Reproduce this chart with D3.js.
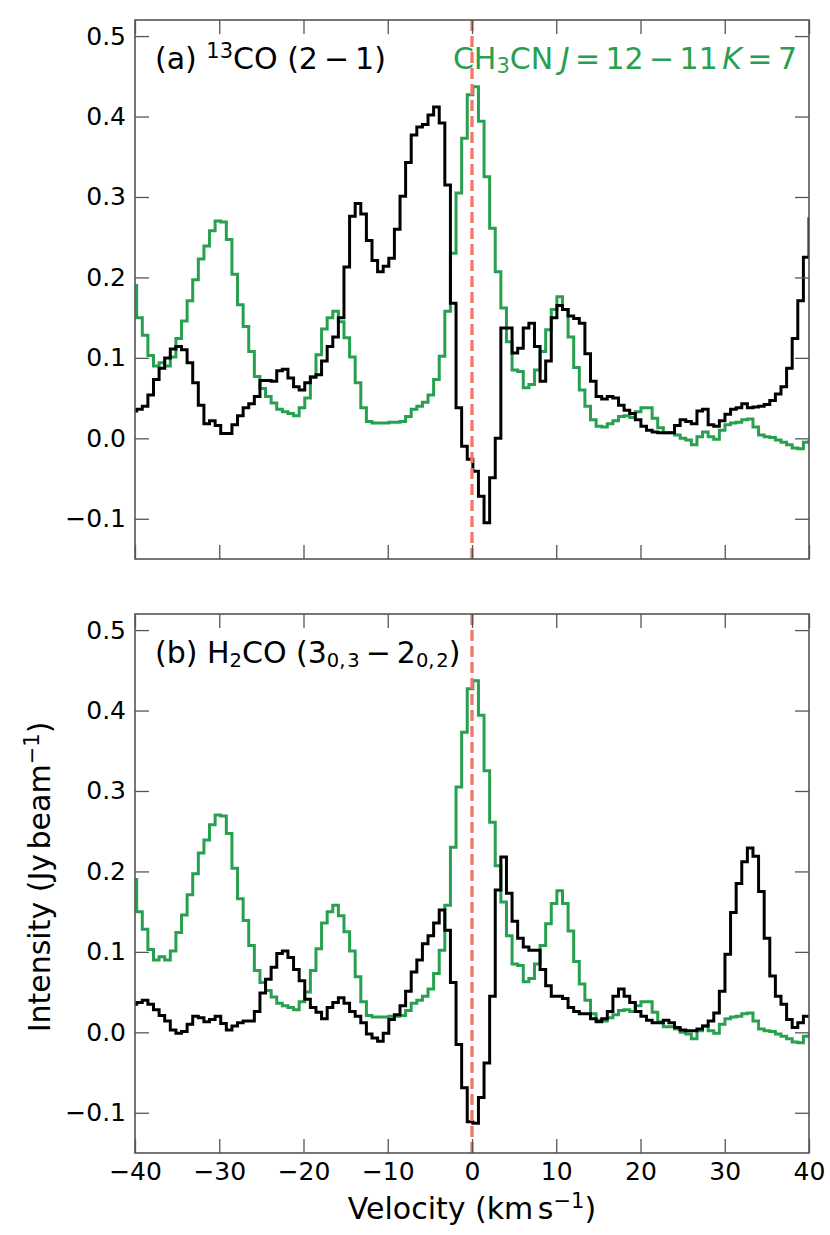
<!DOCTYPE html>
<html><head><meta charset="utf-8">
<script src="https://cdn.jsdelivr.net/npm/d3@7"></script>
<style>body{margin:0;background:#fff}svg{display:block;font-family:"DejaVu Sans",sans-serif}</style>
</head><body><svg id="c" width="830" height="1235"></svg>
<script>
// channel centre velocities (km/s)
const velocity = [-40.13,-39.47,-38.80,-38.14,-37.47,-36.81,-36.14,-35.48,-34.81,-34.15,
-33.48,-32.82,-32.15,-31.49,-30.82,-30.16,-29.49,-28.83,-28.16,-27.50,
-26.83,-26.17,-25.50,-24.84,-24.17,-23.51,-22.84,-22.18,-21.51,-20.85,
-20.18,-19.52,-18.85,-18.19,-17.52,-16.86,-16.19,-15.53,-14.86,-14.20,
-13.53,-12.87,-12.20,-11.54,-10.87,-10.21,-9.54,-8.88,-8.21,-7.55,
-6.88,-6.22,-5.55,-4.89,-4.22,-3.56,-2.89,-2.23,-1.56,-0.90,
-0.23,0.43,1.10,1.76,2.43,3.09,3.76,4.42,5.09,5.75,
6.42,7.08,7.75,8.41,9.08,9.74,10.41,11.07,11.74,12.40,
13.07,13.73,14.40,15.06,15.73,16.39,17.06,17.72,18.39,19.05,
19.72,20.38,21.05,21.71,22.38,23.04,23.71,24.37,25.04,25.70,
26.37,27.03,27.70,28.36,29.03,29.69,30.36,31.02,31.69,32.35,
33.02,33.68,34.35,35.01,35.68,36.34,37.01,37.67,38.34,39.00,
39.67,40.33];

// CH3CN J=12-11 K=7 (green, same in both panels)
const ch3cn = [0.190,0.150,0.128,0.103,0.090,0.094,0.090,0.101,0.124,0.146,
0.171,0.197,0.223,0.239,0.258,0.270,0.269,0.247,0.204,0.166,
0.139,0.108,0.077,0.062,0.052,0.044,0.036,0.033,0.031,0.028,
0.038,0.050,0.077,0.104,0.136,0.150,0.158,0.145,0.125,0.101,
0.069,0.038,0.021,0.019,0.019,0.019,0.020,0.020,0.021,0.027,
0.036,0.040,0.045,0.054,0.073,0.102,0.158,0.230,0.305,0.373,
0.427,0.437,0.394,0.325,0.261,0.207,0.162,0.120,0.085,0.083,
0.063,0.067,0.085,0.108,0.135,0.160,0.176,0.160,0.126,0.088,
0.060,0.040,0.023,0.015,0.014,0.018,0.022,0.027,0.028,0.026,
0.033,0.038,0.038,0.025,0.013,0.007,0.007,0.004,0.000,-0.002,
-0.008,0.002,0.008,0.002,-0.001,0.010,0.017,0.019,0.020,0.023,
0.024,0.014,0.004,0.002,0.001,-0.002,-0.005,-0.008,-0.012,-0.013,
-0.005,-0.004];

// 13CO (2-1) (black, panel a)
const co13 = [0.034,0.036,0.040,0.054,0.073,0.087,0.100,0.111,0.114,0.110,
0.094,0.069,0.041,0.018,0.022,0.016,0.006,0.006,0.017,0.028,
0.038,0.043,0.052,0.072,0.072,0.071,0.084,0.086,0.075,0.064,
0.060,0.069,0.076,0.079,0.096,0.114,0.126,0.150,0.213,0.276,
0.292,0.279,0.246,0.221,0.207,0.214,0.224,0.260,0.301,0.343,
0.377,0.387,0.390,0.402,0.412,0.392,0.315,0.168,0.038,-0.010,
-0.026,-0.041,-0.072,-0.105,-0.049,0.000,0.137,0.137,0.106,0.112,
0.137,0.143,0.114,0.071,0.096,0.150,0.165,0.160,0.152,0.149,
0.143,0.105,0.071,0.052,0.049,0.052,0.050,0.041,0.035,0.031,
0.023,0.015,0.010,0.008,0.007,0.007,0.007,0.016,0.023,0.021,
0.018,0.034,0.036,0.017,0.015,0.022,0.030,0.036,0.038,0.043,
0.038,0.039,0.040,0.042,0.047,0.055,0.064,0.087,0.124,0.171,
0.225,0.273];

// H2CO (3_03-2_02) (black, panel b)
const h2co = [0.035,0.037,0.040,0.035,0.028,0.021,0.014,0.003,-0.001,0.001,
0.010,0.020,0.018,0.013,0.016,0.020,0.011,0.003,0.008,0.012,
0.014,0.014,0.026,0.049,0.066,0.081,0.098,0.101,0.093,0.078,
0.064,0.041,0.031,0.025,0.017,0.031,0.037,0.043,0.036,0.026,
0.020,0.012,-0.002,-0.007,-0.011,-0.001,0.016,0.022,0.033,0.051,
0.075,0.090,0.110,0.120,0.136,0.152,0.127,0.062,-0.015,-0.069,
-0.111,-0.113,-0.081,-0.038,0.045,0.177,0.218,0.173,0.138,0.117,
0.106,0.102,0.102,0.078,0.058,0.045,0.045,0.042,0.031,0.026,
0.023,0.023,0.017,0.013,0.017,0.026,0.045,0.054,0.045,0.037,
0.026,0.020,0.015,0.012,0.012,0.015,0.012,0.006,0.003,0.002,
0.002,0.004,0.008,0.014,0.024,0.051,0.097,0.149,0.185,0.212,
0.229,0.219,0.175,0.117,0.070,0.045,0.035,0.016,0.006,0.012,
0.020,0.020];

const xTicks = [-40,-30,-20,-10,0,10,20,30,40];
const yTicks = [-0.1,0.0,0.1,0.2,0.3,0.4,0.5];
const xDomain = [-40, 40];
const yDomain = [-0.15, 0.52];
const systemicVelocity = 0;

const GREEN = "#27a04f", RED = "#f2766b", FRAME = "#555";
const TICK_FS = 25, TITLE_FS = 30, LABEL_FS = 30;
const svg = d3.select("#c");
const L = 135, R = 809;
const panels = [
  {top: 20, bottom: 559, series: co13, id: "a", showX: false},
  {top: 614, bottom: 1153, series: h2co, id: "b", showX: true}
];
const x = d3.scaleLinear(xDomain, [L, R]);

function rich(g, px, py, size, segs, anchor, color) {
  const t = g.append("text").attr("x", px).attr("y", py).attr("font-size", size)
    .attr("fill", color).attr("text-anchor", anchor || "start");
  let cur = 0;
  segs.forEach(s => {
    const off = s.sup ? -0.36 * size : (s.sub ? 0.14 * size : 0);
    const ts = t.append("tspan").text(s.t).attr("dy", off - cur);
    if (s.sup || s.sub) ts.attr("font-size", (s.scale || 0.7) * size);
    if (s.it) ts.attr("font-style", "italic");
    if (s.dx) ts.attr("dx", s.dx * size);
    cur = off;
  });
  return t;
}

panels.forEach((p, pi) => {
  const y = d3.scaleLinear(yDomain, [p.bottom, p.top]);
  const g = svg.append("g");
  const clipId = "clip" + pi;
  svg.append("clipPath").attr("id", clipId).append("rect")
    .attr("x", L).attr("y", p.top).attr("width", R - L).attr("height", p.bottom - p.top);

  const line = d3.line().x((d, i) => x(velocity[i])).y(d => y(d)).curve(d3.curveStep);
  const plot = g.append("g").attr("clip-path", `url(#${clipId})`);
  plot.append("path").datum(ch3cn).attr("d", line).attr("fill", "none")
    .attr("stroke", GREEN).attr("stroke-width", 3).attr("stroke-linejoin", "miter");
  plot.append("path").datum(p.series).attr("d", line).attr("fill", "none")
    .attr("stroke", "#000").attr("stroke-width", 3).attr("stroke-linejoin", "miter");
  plot.append("line").attr("x1", x(systemicVelocity)).attr("x2", x(systemicVelocity))
    .attr("y1", p.top).attr("y2", p.bottom)
    .attr("stroke", RED).attr("stroke-width", 3.3).attr("stroke-dasharray", "11,5");

  const fmtY = d3.format(".1f");
  const left = g.append("g").attr("transform", `translate(${L},0)`)
    .call(d3.axisLeft(y).tickValues(yTicks).tickFormat(fmtY).tickSize(-14).tickPadding(9));
  const right = g.append("g").attr("transform", `translate(${R},0)`)
    .call(d3.axisRight(y).tickValues(yTicks).tickFormat("").tickSize(-14));
  const top = g.append("g").attr("transform", `translate(0,${p.top})`)
    .call(d3.axisTop(x).tickValues(xTicks).tickFormat("").tickSize(-14));
  const bot = g.append("g").attr("transform", `translate(0,${p.bottom})`)
    .call(d3.axisBottom(x).tickValues(xTicks).tickFormat(p.showX ? d3.format("d") : "").tickSize(-14).tickPadding(9));
  [left, right, top, bot].forEach(a => {
    a.select(".domain").remove();
    a.selectAll(".tick line").attr("stroke", FRAME).attr("stroke-width", 1.3);
    a.selectAll("text").attr("font-size", TICK_FS).attr("fill", "#000").attr("font-family", "DejaVu Sans");
  });
  g.append("rect").attr("x", L).attr("y", p.top).attr("width", R - L).attr("height", p.bottom - p.top)
    .attr("fill", "none").attr("stroke", FRAME).attr("stroke-width", 1.6);

  if (p.id === "a") {
    rich(g, 155, p.top + 49, TITLE_FS, [
      {t: "(a) "}, {t: "13", sup: true}, {t: "CO (2"}, {t: "\u2212", dx: 0.2}, {t: "1)", dx: 0.2}
    ], "start", "#000");
    rich(g, 797, p.top + 49, TITLE_FS, [
      {t: "CH"}, {t: "3", sub: true}, {t: "CN"}, {t: "J", it: true, dx: 0.25},
      {t: "=", dx: 0.18}, {t: "12", dx: 0.18}, {t: "\u2212", dx: 0.18}, {t: "11", dx: 0.18},
      {t: "K", it: true, dx: 0.15}, {t: "=", dx: 0.18}, {t: "7", dx: 0.18}
    ], "end", GREEN);
  } else {
    rich(g, 155, p.top + 49, TITLE_FS, [
      {t: "(b) H"}, {t: "2", sub: true, scale: 0.65}, {t: "CO (3"}, {t: "0,", sub: true, scale: 0.65},
      {t: "3", sub: true, scale: 0.65, dx: 0.06},
      {t: "\u2212", dx: 0.2}, {t: "2", dx: 0.2}, {t: "0,", sub: true, scale: 0.65},
      {t: "2", sub: true, scale: 0.65, dx: 0.06}, {t: ")"}
    ], "start", "#000");
  }
});

// axis titles
rich(svg, (L + R) / 2, 1219, LABEL_FS, [
  {t: "Velocity (km"}, {t: "s", dx: 0.15}, {t: "\u22121", sup: true}, {t: ")"}
], "middle", "#000");
const yl = rich(svg, 0, 0, LABEL_FS, [
  {t: "Intensity (Jy"}, {t: "beam", dx: 0.15}, {t: "\u22121", sup: true}, {t: ")"}
], "middle", "#000");
yl.attr("transform", "translate(50,877) rotate(-90)");
</script></body></html>
